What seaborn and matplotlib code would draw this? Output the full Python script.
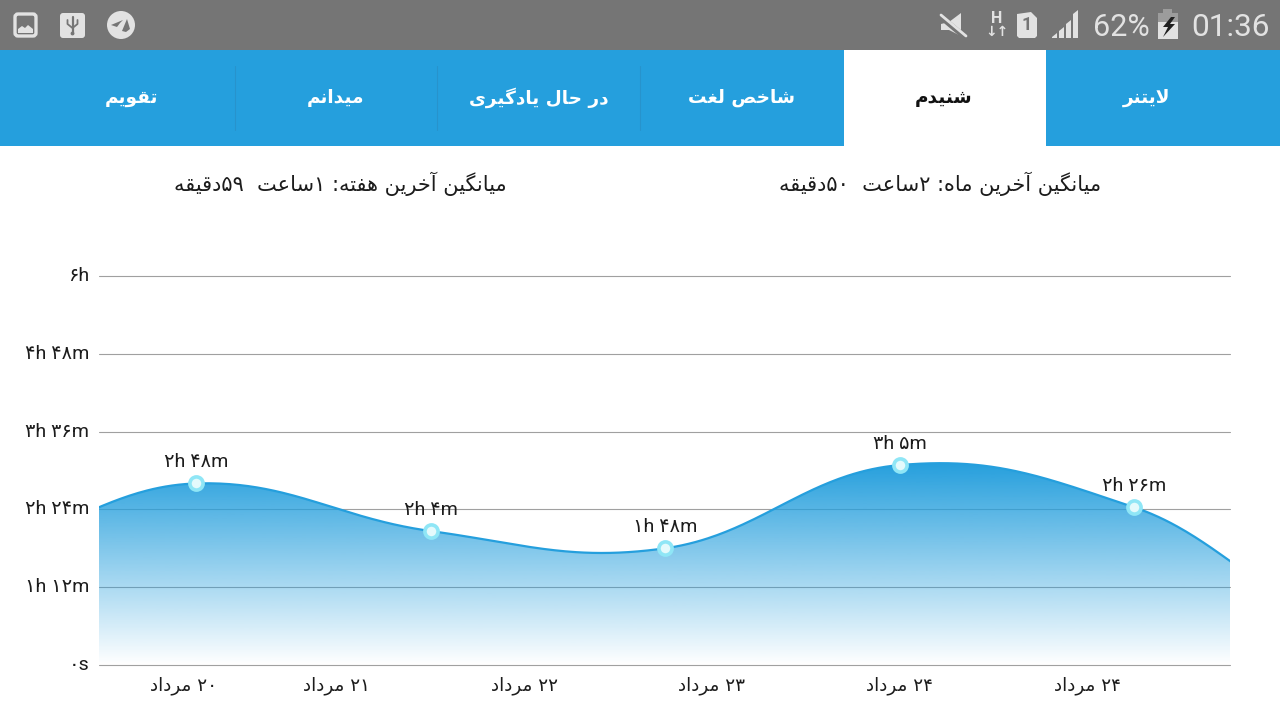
import re
import numpy as np
import seaborn as sns
import matplotlib
matplotlib.use("Agg")
import matplotlib.pyplot as plt
from matplotlib.patches import Rectangle, Circle, Polygon, FancyBboxPatch
from matplotlib.transforms import ScaledTranslation

# ==========================
# Data
# ==========================

point_minutes = [168, 124, 108, 185, 146]
point_labels = ["۲h ۴۸m", "۲h ۴m", "۱h ۴۸m", "۳h ۵m", "۲h ۲۶m"]

# the curve runs off both sides of the plot, estimated neighbours
minutes_before = 110
minutes_after = 40

y_ticks = [0, 72, 144, 216, 288, 360]
y_labels = ["۰s", "۱h ۱۲m", "۲h ۲۴m", "۳h ۳۶m", "۴h ۴۸m", "۶h"]

x_ticks = [-0.055, 0.6, 1.4, 2.2, 3.0, 3.8]
x_labels = ["۲۰ مرداد", "۲۱ مرداد", "۲۲ مرداد", "۲۳ مرداد", "۲۴ مرداد", "۲۴ مرداد"]

tab_names = ["لایتنر", "شنیدم", "شاخص لغت", "در حال یادگیری", "میدانم", "تقویم"]
tab_centers = [1147, 944, 742, 539, 335, 132]
tab_separators = [234.5, 437, 640]

week_average = "میانگین آخرین هفته: ۱ساعت  ۵۹دقیقه"
month_average = "میانگین آخرین ماه: ۲ساعت  ۵۰دقیقه"

BLUE = "#259fdd"
BAR_GRAY = "#757575"
ICON = "#e2e2e2"

# ==========================
# Persian text (matplotlib does no shaping)
# ==========================

FORMS = {
    "ا": (0xFE8D, 0xFE8E), "آ": (0xFE81, 0xFE82), "د": (0xFEA9, 0xFEAA),
    "ر": (0xFEAD, 0xFEAE), "و": (0xFEED, 0xFEEE),
    "ت": (0xFE95, 0xFE96, 0xFE97, 0xFE98), "ح": (0xFEA1, 0xFEA2, 0xFEA3, 0xFEA4),
    "خ": (0xFEA5, 0xFEA6, 0xFEA7, 0xFEA8), "س": (0xFEB1, 0xFEB2, 0xFEB3, 0xFEB4),
    "ش": (0xFEB5, 0xFEB6, 0xFEB7, 0xFEB8), "ص": (0xFEB9, 0xFEBA, 0xFEBB, 0xFEBC),
    "ع": (0xFEC9, 0xFECA, 0xFECB, 0xFECC), "غ": (0xFECD, 0xFECE, 0xFECF, 0xFED0),
    "ف": (0xFED1, 0xFED2, 0xFED3, 0xFED4), "ق": (0xFED5, 0xFED6, 0xFED7, 0xFED8),
    "ل": (0xFEDD, 0xFEDE, 0xFEDF, 0xFEE0), "م": (0xFEE1, 0xFEE2, 0xFEE3, 0xFEE4),
    "ن": (0xFEE5, 0xFEE6, 0xFEE7, 0xFEE8), "ه": (0xFEE9, 0xFEEA, 0xFEEB, 0xFEEC),
    "ی": (0xFBFC, 0xFBFD, 0xFBFE, 0xFBFF), "گ": (0xFB92, 0xFB93, 0xFB94, 0xFB95),
}


def persian(text):
    out = []
    i = 0
    while i < len(text):
        ch = text[i]
        if ch not in FORMS:
            out.append(ch)
            i += 1
            continue
        prev = text[i - 1] if i else " "
        joins_prev = len(FORMS.get(prev, ())) == 4
        if ch == "ل" and text[i + 1:i + 2] == "ا":
            out.append(chr(0xFEFC if joins_prev else 0xFEFB))
            i += 2
            continue
        nxt = text[i + 1] if i + 1 < len(text) else " "
        joins_next = len(FORMS[ch]) == 4 and nxt in FORMS
        form = {(False, False): 0, (True, False): 1,
                (False, True): 2, (True, True): 3}[(joins_prev, joins_next)]
        out.append(chr(FORMS[ch][form]))
        i += 1
    visual = "".join(out)[::-1]
    # digits keep their own direction
    return re.sub("[۰-۹]+", lambda m: m.group(0)[::-1], visual)


# ==========================
# Smooth curve through the points
# ==========================

x_all = np.arange(-1, 6, dtype=float)
v_all = np.array([minutes_before] + point_minutes + [minutes_after], dtype=float)
slopes = np.zeros(len(v_all))
slopes[1:-1] = (v_all[2:] - v_all[:-2]) / 2

curve_x = []
curve_y = []
t = np.linspace(0, 1, 80)
for k in range(len(x_all) - 1):
    px = [x_all[k], x_all[k] + 0.4, x_all[k + 1] - 0.4, x_all[k + 1]]
    py = [v_all[k], v_all[k] + 0.4 * slopes[k],
          v_all[k + 1] - 0.4 * slopes[k + 1], v_all[k + 1]]
    w = [(1 - t) ** 3, 3 * (1 - t) ** 2 * t, 3 * (1 - t) * t ** 2, t ** 3]
    curve_x.append(sum(a * b for a, b in zip(w, px)))
    curve_y.append(sum(a * b for a, b in zip(w, py)))
curve_x = np.concatenate(curve_x)
curve_y = np.concatenate(curve_y)

# ==========================
# Figure
# ==========================

sns.set_theme(style="white")
plt.rcParams["font.family"] = ["Roboto", "DejaVu Sans"]

W, H = 1280, 720
fig = plt.figure(figsize=(12.8, 7.2), dpi=100, facecolor="white")

# ==========================
# App chrome
# ==========================

ui = fig.add_axes([0, 0, 1, 1])
ui.set_xlim(0, W)
ui.set_ylim(H, 0)
ui.axis("off")

ui.add_patch(Rectangle((0, 0), W, 50, color=BAR_GRAY, lw=0))
ui.add_patch(Rectangle((0, 50), W, 96, color=BLUE, lw=0))
ui.add_patch(Rectangle((844, 50), 202, 96, color="white", lw=0))

for sx in tab_separators:
    ui.plot([sx, sx], [66, 130], color="#2793cc", lw=0.8)

for i, (name, cx) in enumerate(zip(tab_names, tab_centers)):
    active = i == 1
    ui.text(cx, 98, persian(name), ha="center", va="center", fontsize=13.3,
            fontweight="bold", family="DejaVu Sans",
            color="#111111" if active else "white")

ui.text(340, 184, persian(week_average), ha="center", va="center",
        fontsize=15, family="DejaVu Sans", color="#1c1c1c")
ui.text(940.5, 184, persian(month_average), ha="center", va="center",
        fontsize=15, family="DejaVu Sans", color="#1c1c1c")

# status bar, left icons
ui.add_patch(FancyBboxPatch((15, 14), 21, 22, boxstyle="round,pad=0,rounding_size=3",
                            fc=BAR_GRAY, ec=ICON, lw=2.4))
ui.add_patch(Polygon([[18, 33], [18, 29], [22, 26], [25, 28], [28, 25], [33, 29], [33, 33]],
                     color=ICON, lw=0))
ui.add_patch(FancyBboxPatch((60, 13), 25, 25, boxstyle="round,pad=0,rounding_size=3",
                            fc=ICON, ec="none"))
ui.plot([72.5, 72.5], [17, 34], color=BAR_GRAY, lw=1.6)
ui.plot([67.5, 67.5, 72.5, 77.5, 77.5], [20, 24, 28, 24, 20], color=BAR_GRAY, lw=1.3)
ui.add_patch(Circle((72.5, 33.5), 1.9, color=BAR_GRAY, lw=0))
ui.add_patch(Circle((121, 25), 14, color=ICON, lw=0))
ui.add_patch(Polygon([[111, 25], [123, 20], [120, 23], [117, 27]], color=BAR_GRAY, lw=0))
ui.add_patch(Polygon([[122, 31], [127, 19], [130, 29], [126, 32]], color=BAR_GRAY, lw=0))

# status bar, right icons
ui.add_patch(Polygon([[941, 24], [949, 22], [961, 13], [961, 36], [949, 30], [941, 30]],
                     color=ICON, lw=0))
ui.plot([941, 966], [17, 38], color=BAR_GRAY, lw=4)
ui.plot([941, 966], [15, 36], color=ICON, lw=2)
ui.text(997, 18.5, "H", ha="center", va="center", fontsize=11.5, fontweight="bold", color=ICON)
ui.text(997, 32, "↓↑", ha="center", va="center", fontsize=10, fontweight="bold",
        family="DejaVu Sans", color=ICON)
ui.add_patch(Polygon([[1017, 14], [1031, 12], [1037, 18], [1037, 36], [1035, 38],
                      [1019, 38], [1017, 36]], color=ICON, lw=0))
ui.text(1027, 25.5, "1", ha="center", va="center", fontsize=13, fontweight="bold",
        color=BAR_GRAY)
for bx, top in zip([1052, 1059, 1066, 1073], [35, 29, 22, 12]):
    ui.add_patch(Polygon([[bx, 38], [bx, top + 2], [bx + 5, top - 2], [bx + 5, 38]],
                         color=ICON, lw=0))
ui.text(1093, 27.5, "62%", ha="left", va="center", fontsize=22, color=ICON)
ui.add_patch(Rectangle((1163, 9), 9, 5, color="#9c9c9c", lw=0))
ui.add_patch(Rectangle((1158, 13), 20, 9, color="#9c9c9c", lw=0))
ui.add_patch(Rectangle((1158, 22), 20, 17, color=ICON, lw=0))
ui.add_patch(Polygon([[1171, 17], [1163, 27], [1168, 27], [1163, 37], [1175, 24], [1170, 24],
                      [1175, 17]], color="#202020", lw=0))
ui.text(1270, 27.5, "01:36", ha="right", va="center", fontsize=22.8, color=ICON)

# ==========================
# Chart
# ==========================

left, right, top, bottom = 99, 1230, 276, 665
ax = fig.add_axes([left / W, 1 - bottom / H, (right - left) / W, (bottom - top) / H])
ax.patch.set_alpha(0)

x_min, x_max = (left - 196) / 234.5, (right - 196) / 234.5

# gradient under the curve
grad_top = curve_y[(curve_x >= x_min) & (curve_x <= x_max)].max()
rgba = np.zeros((256, 1, 4))
rgba[..., :3] = matplotlib.colors.to_rgb(BLUE)
rgba[:, 0, 3] = np.linspace(1, 0, 256)
img = ax.imshow(rgba, extent=[x_min, x_max, 0, grad_top], aspect="auto",
                origin="upper", zorder=2, interpolation="bilinear")
clip = Polygon(np.column_stack([np.r_[curve_x[0], curve_x, curve_x[-1]],
                                np.r_[0, curve_y, 0]]),
               transform=ax.transData, fc="none", ec="none")
ax.add_patch(clip)
img.set_clip_path(clip)

sns.lineplot(x=curve_x, y=curve_y, ax=ax, color=BLUE, linewidth=1.6,
             estimator=None, sort=False, legend=False, zorder=3)
sns.scatterplot(x=np.arange(len(point_minutes)), y=point_minutes, ax=ax, s=90,
                color="#e4fafc", edgecolor="#8fe6f6", linewidth=2.6, legend=False,
                zorder=4, clip_on=False)

for i, (v, label) in enumerate(zip(point_minutes, point_labels)):
    ax.annotate(label, (i, v), xytext=(0, 9), textcoords="offset points",
                ha="center", va="bottom", fontsize=14, color="#1c1c1c", zorder=5)

ax.set_xlim(x_min, x_max)
ax.set_ylim(0, 360)
ax.set_yticks(y_ticks)
ax.set_yticklabels(y_labels, fontsize=14, color="#1c1c1c")
ax.set_xticks(x_ticks)
ax.set_xticklabels([persian(s) for s in x_labels], fontsize=13.2, color="#1c1c1c",
                   family="DejaVu Sans")
ax.tick_params(axis="both", length=0)
ax.tick_params(axis="y", pad=7)
ax.tick_params(axis="x", pad=8)
ax.set_xlabel("")
ax.set_ylabel("")

# the labels sit a little above their grid lines
lift = ScaledTranslation(0, 2 / 100, fig.dpi_scale_trans)
for tick_label in ax.get_yticklabels():
    tick_label.set_transform(tick_label.get_transform() + lift)

ax.yaxis.grid(True, color="#a0a0a0", linewidth=0.8, zorder=1)
ax.xaxis.grid(False)
ax.set_axisbelow(True)
for grid_line in ax.get_ygridlines():
    grid_line.set_clip_on(False)
sns.despine(ax=ax, left=True, bottom=True)

fig.savefig("out.png", dpi=100)
plt.close(fig)
